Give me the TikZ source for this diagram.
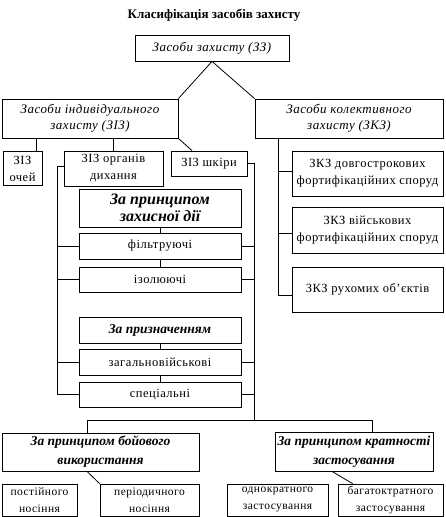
\documentclass[tikz,border=0pt]{standalone}
\usepackage{fontspec}
\setmainfont{Liberation Serif}
\newfontfamily\spaced{Liberation Serif}[LetterSpace=4]
\begin{document}
\begin{tikzpicture}[x=1pt,y=-1pt,
  box/.style={draw,line width=0.8pt,inner sep=0pt,align=center,anchor=center},
  body/.style={box,font=\spaced\fontsize{12.5}{17}\selectfont},
  small/.style={box,font=\spaced\fontsize{11.5}{17}\selectfont},
  head/.style={box,font=\spaced\fontsize{13}{16}\selectfont\itshape},
  bhead/.style={box,font=\fontsize{13.5}{19}\selectfont\bfseries\itshape},
  big/.style={box,font=\fontsize{16}{17.5}\selectfont\bfseries\itshape},
  conn/.style={line width=0.8pt}]
\useasboundingbox (0,0) rectangle (445,517);
\node[font=\fontsize{13}{15}\selectfont\bfseries] (title) at (214,15) {Класифікація засобів захисту};
% level 1
\node[head,minimum width=154,minimum height=26] (zz) at (212,48) {Засоби захисту (ЗЗ)};
\node[head,minimum width=176,minimum height=39] (ziz) at (90,118.5) {Засоби індивідуального\\захисту (ЗІЗ)};
\node[head,minimum width=188,minimum height=39] (zkz) at (349,118.5) {Засоби колективного\\захисту (ЗКЗ)};
% ZIZ children
\node[body,minimum width=39,minimum height=34] (oci) at (22.5,168.5) {ЗІЗ\\очей};
\node[body,minimum width=99,minimum height=35] (dyh) at (113.5,168.5) {ЗІЗ органів\\дихання};
\node[body,minimum width=76,minimum height=25] (skiry) at (209,163.5) {ЗІЗ шкіри};
% middle column
\node[big,minimum width=162,minimum height=38] (zpzd) at (160,208) {За принципом\\захисної дії};
\node[body,minimum width=162,minimum height=26] (filt) at (160,246) {фільтруючі};
\node[body,minimum width=162,minimum height=25] (izol) at (160,279.5) {ізолюючі};
\node[bhead,minimum width=162,minimum height=26] (pryzn) at (160,330) {За призначенням};
\node[body,minimum width=162,minimum height=26] (zag) at (160,362) {загальновійськові};
\node[body,minimum width=162,minimum height=25] (spec) at (160,394.5) {спеціальні};
% ZKZ children
\node[body,minimum width=151,minimum height=45] (dovh) at (367.5,173.5) {ЗКЗ довгострокових\\фортифікаційних споруд};
\node[body,minimum width=151,minimum height=46] (viisk) at (367.5,230) {ЗКЗ військових\\фортифікаційних споруд};
\node[body,minimum width=151,minimum height=45] (ruh) at (367.5,289.5) {ЗКЗ рухомих об’єктів};
% bottom
\node[bhead,minimum width=197,minimum height=38] (boj) at (100.5,452) {За принципом бойового\\використання};
\node[bhead,minimum width=158,minimum height=39] (krat) at (354,451.5) {За принципом кратності\\застосування};
\node[small,minimum width=75,minimum height=32] (post) at (39.5,500) {постійного\\носіння};
\node[small,minimum width=99,minimum height=32] (period) at (149.5,500) {періодичного\\носіння};
\node[small,minimum width=101,minimum height=32] (odno) at (277.5,500) {однократного\\застосування};
\node[small,minimum width=105,minimum height=32] (baha) at (390.5,500) {багатоктратного\\застосування};
% coordinates
\coordinate (L) at (57,0);
\coordinate (R) at (254,0);
\coordinate (K) at (278,0);
\coordinate (H) at (0,420);
\coordinate (bj) at ([xshift=-13.5]boj.north);
\coordinate (kr) at ([xshift=18]krat.north);
% connectors top
\draw[conn] (zz.south) -- (ziz.north east);
\draw[conn] (zz.south) -- (zkz.north west);
\draw[conn] ([xshift=13.5]oci.north) -- ([xshift=13.5]oci.north |- ziz.south);
\draw[conn] (dyh.north) -- (dyh.north |- ziz.south);
\draw[conn] (ziz.south east) -- ([xshift=-17]skiry.north);
% middle chain
\draw[conn] (zpzd.south) -- (filt.north);
\draw[conn] (filt.south) -- (izol.north);
\draw[conn] (pryzn.south) -- (zag.north);
\draw[conn] (zag.south) -- (spec.north);
% left bracket
\draw[conn] ([yshift=2.5]dyh.west) -| (spec.west -| L) -- (spec.west);
\draw[conn] (filt.west) -- (filt.west -| L);
\draw[conn] (izol.west) -- (izol.west -| L);
\draw[conn] (zag.west) -- (zag.west -| L);
% right bracket
\draw[conn] (skiry.east) -| (R |- H);
\draw[conn] (filt.east) -- (filt.east -| R);
\draw[conn] (izol.east) -- (izol.east -| R);
\draw[conn] (zag.east) -- (zag.east -| R);
\draw[conn] (spec.east) -- (spec.east -| R);
% bottom split
\draw[conn] (bj) -- (bj |- H) -- (kr |- H) -- (kr);
% ZKZ bracket
\draw[conn] (zkz.south -| K) |- ([yshift=-5.5]ruh.west);
\draw[conn] ([yshift=2.5]dovh.west) -- ([yshift=2.5]dovh.west -| K);
\draw[conn] ([yshift=-3]viisk.west) -- ([yshift=-3]viisk.west -| K);
% bottom diagonals
\draw[conn] ([xshift=-13.5]boj.south) -- (period.north west);
\draw[conn] ([xshift=-22]krat.south) -- ([xshift=15]baha.north west);
\end{tikzpicture}
\end{document}
